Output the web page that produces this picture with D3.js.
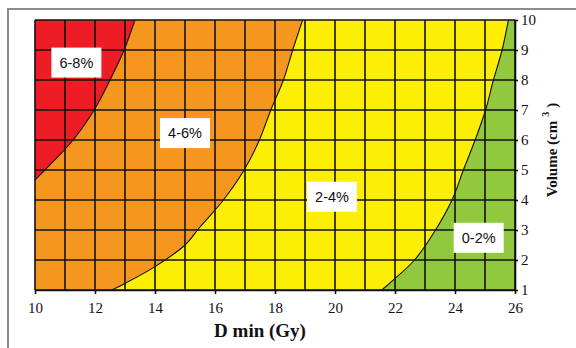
<!DOCTYPE html>
<html>
<head>
<meta charset="utf-8">
<script src="https://cdn.jsdelivr.net/npm/d3@7"></script>
<style>
  html, body { margin: 0; padding: 0; background: #fff; }
  svg { display: block; }
</style>
</head>
<body>
<svg id="chart" width="576" height="348"></svg>
<script>
// Axis ticks
const doseTicks = [10, 12, 14, 16, 18, 20, 22, 24, 26];
const volumeTicks = [1, 2, 3, 4, 5, 6, 7, 8, 9, 10];

// Iso-risk boundaries as [D min (Gy), Volume (cm3)], top to bottom
const boundary68 = [[13.33, 10], [12.97, 9], [12.5, 8], [11.97, 7], [11.27, 6], [10.33, 5], [10, 4.67]];
const boundary46 = [[18.92, 10], [18.59, 9], [18.28, 8], [17.86, 7], [17.48, 6], [16.97, 5], [16.28, 4], [15.5, 3.1], [15.0, 2.5], [14.0, 1.78], [13.0, 1.22], [12.56, 1]];
const boundary24 = [[25.78, 10], [25.57, 9], [25.28, 8], [25.02, 7], [24.67, 6], [24.28, 5], [23.9, 4], [23.35, 3], [22.65, 2], [21.94, 1.33], [21.56, 1]];

// Risk bands, each filled to the left of its upper boundary
const bandLabels = ["6-8%", "4-6%", "2-4%", "0-2%"];
const bandColors = ["#ee1c25", "#f5961f", "#fcee05", "#92c83e"];
const bandBoundaries = [boundary68, boundary46, boundary24, null];
const labelDose = [11.38, 15.0, 19.9, 24.79];
const labelVolume = [8.58, 6.23, 4.11, 2.74];

const svg = d3.select("#chart");
const W = 576, H = 348;
const plot = { left: 35, top: 20, right: 515, bottom: 290 };

const x = d3.scaleLinear().domain([10, 26]).range([plot.left, plot.right]);
const y = d3.scaleLinear().domain([1, 10]).range([plot.bottom, plot.top]);

// Outer frame
svg.append("path")
  .attr("d", `M8,${H}V9H${W}`)
  .attr("fill", "none")
  .attr("stroke", "#8c8c8c")
  .attr("stroke-width", 2);

svg.append("clipPath").attr("id", "plotClip")
  .append("rect")
  .attr("x", x(10)).attr("y", y(10))
  .attr("width", x(26) - x(10)).attr("height", y(1) - y(10));

const area = svg.append("g").attr("clip-path", "url(#plotClip)");

// Lowest band fills the whole plot; higher bands are layered on top
area.append("rect")
  .attr("x", x(10)).attr("y", y(10))
  .attr("width", x(26) - x(10)).attr("height", y(1) - y(10))
  .attr("fill", bandColors[3]);

const curveLine = d3.line()
  .x(d => x(d[0]))
  .y(d => y(d[1]))
  .curve(d3.curveCatmullRom.alpha(0.5));

for (let i = 2; i >= 0; i--) {
  const b = bandBoundaries[i];
  const d = curveLine(b) + `L${x(10)},${y(1)}L${x(10)},${y(10)}Z`;
  area.append("path")
    .attr("d", d)
    .attr("fill", bandColors[i]);
}

// Boundary lines
for (let i = 0; i < 3; i++) {
  area.append("path")
    .attr("d", curveLine(bandBoundaries[i]))
    .attr("fill", "none")
    .attr("stroke", "#111")
    .attr("stroke-width", 1.1);
}

// Grid at every unit
const grid = svg.append("g").attr("stroke", "#111").attr("stroke-width", 1.6);
grid.selectAll("line.v").data(d3.range(10, 27)).join("line")
  .attr("class", "v")
  .attr("x1", d => x(d)).attr("x2", d => x(d))
  .attr("y1", y(10)).attr("y2", y(1));
grid.selectAll("line.h").data(d3.range(1, 11)).join("line")
  .attr("class", "h")
  .attr("x1", x(10)).attr("x2", x(26))
  .attr("y1", d => y(d)).attr("y2", d => y(d));

// Bottom axis
const xAxis = svg.append("g")
  .attr("transform", `translate(0,${plot.bottom})`)
  .call(d3.axisBottom(x).tickValues(doseTicks).tickSize(4).tickSizeOuter(0).tickPadding(8));
xAxis.select(".domain").attr("stroke", "#111").attr("stroke-width", 1.6);
xAxis.selectAll(".tick line").attr("stroke", "#111").attr("stroke-width", 1.6);
xAxis.selectAll("text")
  .attr("font-family", "'Liberation Serif', 'Times New Roman', serif")
  .attr("font-size", 15)
  .attr("fill", "#111");

// Right axis
const yAxis = svg.append("g")
  .attr("transform", `translate(${plot.right},0)`)
  .call(d3.axisRight(y).tickValues(volumeTicks).tickSize(3).tickSizeOuter(0).tickPadding(3).tickFormat(d3.format("d")));
yAxis.select(".domain").attr("stroke", "#111").attr("stroke-width", 1.6);
yAxis.selectAll(".tick line").attr("stroke", "#111").attr("stroke-width", 1.6);
yAxis.selectAll("text")
  .attr("font-family", "'Liberation Serif', 'Times New Roman', serif")
  .attr("font-size", 15)
  .attr("fill", "#111");

// Axis titles
svg.append("text")
  .attr("x", 260).attr("y", 337)
  .attr("text-anchor", "middle")
  .attr("font-family", "'Liberation Serif', 'Times New Roman', serif")
  .attr("font-weight", "bold")
  .attr("font-size", 19)
  .attr("fill", "#111")
  .text("D min (Gy)");

const yTitle = svg.append("text")
  .attr("transform", "translate(557,150) rotate(-90)")
  .attr("text-anchor", "middle")
  .attr("font-family", "'Liberation Serif', 'Times New Roman', serif")
  .attr("font-weight", "bold")
  .attr("font-size", 15)
  .attr("fill", "#111");
yTitle.append("tspan").text("Volume (cm");
yTitle.append("tspan").attr("dx", 4).attr("dy", -8).attr("font-size", 10).text("3");
yTitle.append("tspan").attr("dx", 4).attr("dy", 8).text(")");

// Band labels on white boxes
const labels = svg.append("g");
bandLabels.forEach((t, i) => {
  const cx = x(labelDose[i]), cy = y(labelVolume[i]);
  labels.append("rect")
    .attr("x", cx - 25).attr("y", cy - 15)
    .attr("width", 50).attr("height", 30)
    .attr("fill", "#fff");
  labels.append("text")
    .attr("x", cx).attr("y", cy + 5)
    .attr("text-anchor", "middle")
    .attr("font-family", "'Liberation Sans', Arial, sans-serif")
    .attr("font-size", 14.5)
    .attr("fill", "#111")
    .text(t);
});
</script>
</body>
</html>
